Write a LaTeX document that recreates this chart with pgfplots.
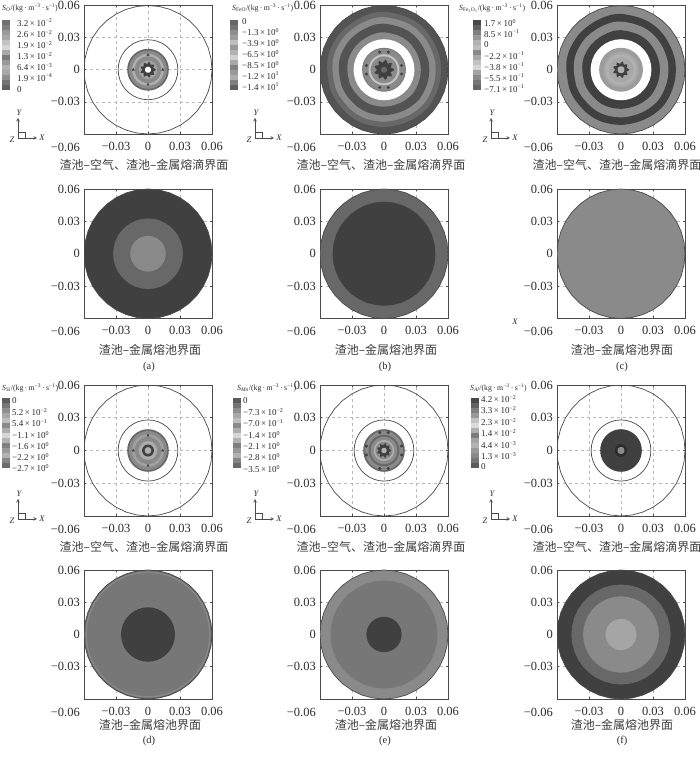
\documentclass[border=0pt]{standalone}
\usepackage{pgfplots}
\usepackage{pgfplotstable}
\usepackage{fontspec}
\pgfplotsset{compat=1.18}
\setmainfont{Liberation Serif}
\newfontfamily\cjk{Noto Sans CJK SC}
\definecolor{axc}{HTML}{4A4A4A}
\definecolor{txt}{HTML}{2A2A2A}
\definecolor{cjkc}{HTML}{3C3C3C}
\definecolor{dk}{HTML}{404040}
\definecolor{md}{HTML}{686868}
\definecolor{gr}{HTML}{8A8A8A}
\definecolor{lt}{HTML}{B0B0B0}
\definecolor{vl}{HTML}{D4D4D4}
% unit circle: x, y, wobble factor k, star factor s
\pgfplotstableread{
x y k s
1 0 1 1
.9848 .1736 1 .85
.9397 .3420 .995 .68
.8660 .5 .995 .85
.7660 .6428 1 1
.6428 .7660 1.005 .85
.5 .8660 1.005 .68
.3420 .9397 1 .85
.1736 .9848 1 1
0 1 1.012 .85
-.1736 .9848 1.012 .68
-.3420 .9397 1 .85
-.5 .8660 .995 1
-.6428 .7660 .995 .85
-.7660 .6428 1 .68
-.8660 .5 1 .85
-.9397 .3420 1.005 1
-.9848 .1736 1.005 .85
-1 0 .995 .68
-.9848 -.1736 .99 .85
-.9397 -.3420 1 1
-.8660 -.5 1 .85
-.7660 -.6428 .995 .68
-.6428 -.7660 1 .85
-.5 -.8660 1.005 1
-.3420 -.9397 1.005 .85
-.1736 -.9848 1 .68
0 -1 1 .85
.1736 -.9848 .995 1
.3420 -.9397 .995 .85
.5 -.8660 1 .68
.6428 -.7660 1.005 .85
.7660 -.6428 1.012 1
.8660 -.5 1.005 .85
.9397 -.3420 1 .68
.9848 -.1736 1 .85
1 0 1 1
}\unitc
\pgfplotstableread{
x y
.0138 0
-.0138 0
0 .0138
0 -.0138
}\lobesA
\pgfplotstableread{
x y
.0165 .004
.0165 -.004
-.0165 .004
-.0165 -.004
.004 .0165
-.004 .0165
.004 -.0165
-.004 -.0165
}\lobesB
\newcommand\disc[2]{\addplot[fill=#2,draw=none,mark=none] table[x expr=\thisrow{x}*#1,y expr=\thisrow{y}*#1]{\unitc};}
\newcommand\wdisc[2]{\addplot[fill=#2,draw=none,mark=none,smooth] table[x expr=\thisrow{x}*\thisrow{k}*#1,y expr=\thisrow{y}*\thisrow{k}*#1]{\unitc};}
\newcommand\sdisc[2]{\addplot[fill=#2,draw=none,mark=none] table[x expr=\thisrow{x}*\thisrow{s}*#1,y expr=\thisrow{y}*\thisrow{s}*#1]{\unitc};}
\newcommand\circl[1]{\addplot[draw=axc,line width=0.7pt,mark=none] table[x expr=\thisrow{x}*#1,y expr=\thisrow{y}*#1]{\unitc};}
\newcommand\lobes[2]{\addplot[only marks,mark=#2,mark size=1.3pt,mark options={draw=dk,fill=dk}] table {#1};}
\pgfplotsset{panel/.style={
  scale only axis,width=128pt,height=129.5pt,
  anchor=south west,
  xmin=-0.06,xmax=0.06,ymin=-0.06,ymax=0.06,
  scaled ticks=false,
  xtick={-0.03,0,0.03,0.06},ytick={-0.03,0,0.03,0.06},
  xticklabels={−0.03,0,0.03,0.06},yticklabels={−0.03,0,0.03,0.06},
  tick align=inside,major tick length=2pt,
  tick style={draw=axc,line width=0.5pt},
  axis line style={draw=axc,line width=0.8pt},
  grid=major,grid style={dashed,draw=black!28,line width=0.5pt},
  tick label style={font=\fontsize{12.5}{13}\selectfont,text=txt,inner sep=0pt},
  xticklabel shift=7.5pt,yticklabel shift=4pt,
}}
\newcommand\E[2]{#1\,×\,10\textsuperscript{#2}}
\newcommand\Ttl[3]{\node[anchor=west,inner sep=0pt,text=txt,font=\fontsize{7.8}{9}\selectfont] at (#1,#2) {\textit{S}\textsubscript{#3}/(kg\,·\,m\textsuperscript{−3}\,·\,s\textsuperscript{−1})};}
\newcommand\Lab[3]{\node[anchor=west,inner sep=0pt,text=txt,font=\fontsize{9}{10}\selectfont] at (#1,#2) {#3};}
\newcommand\MinusS[2]{\node[anchor=east,inner sep=0pt,text=txt,font=\fontsize{12.5}{13}\selectfont] at (#1,#2) {−0.06};}
\newcommand\Cn[3]{\node[inner sep=0pt,text=cjkc,font=\fontsize{12}{13}\selectfont\cjk] at (#1,#2) {#3};}
\newcommand\Triad[2]{%
  \draw[axc,line width=0.6pt,-stealth] (#1,#2)--(#1,#2-20);
  \draw[axc,line width=0.6pt,-stealth] (#1,#2)--(#1+19,#2);
  \draw[axc,line width=0.5pt] (#1,#2-6) rectangle (#1+7,#2);
  \node[inner sep=0pt,text=txt,font=\fontsize{8.5}{9}\selectfont\itshape] at (#1+1,#2-25) {Y};
  \node[inner sep=0pt,text=txt,font=\fontsize{8.5}{9}\selectfont\itshape] at (#1+24,#2) {X};
  \node[inner sep=0pt,text=txt,font=\fontsize{8.5}{9}\selectfont\itshape] at (#1-6,#2+2) {Z};}
\newcommand\Cbar[3]{%
  \foreach \g [count=\i from 0] in {#3} {
    \fill[black!\g] (#1,#2+\i*5) rectangle (#1+8,#2+\i*5+5.1);
  }}
\begin{document}
\begin{tikzpicture}
\path[use as bounding box] (0,0) rectangle (700pt,757pt);
% ---------- row 1
\begin{axis}[panel,at={(84pt,623pt)},height=128.5pt]
\circl{0.06}\circl{0.028}
\disc{0.0195}{md}\disc{0.0178}{gr}\disc{0.0148}{lt}\disc{0.0125}{gr}\disc{0.0085}{lt!70!gr}
\sdisc{0.0075}{dk}\disc{0.0028}{white}
\lobes{\lobesA}{triangle*}
\end{axis}
\begin{axis}[panel,at={(320pt,623pt)},height=128.5pt]
\disc{0.06}{dk!90!white}
\wdisc{0.0535}{md}\wdisc{0.0485}{gr}\wdisc{0.0425}{dk!90!white}\wdisc{0.0345}{gr}
\disc{0.0285}{white}
\disc{0.0205}{dk!70!white}\disc{0.0195}{gr}\disc{0.0145}{vl!80!gray}\disc{0.0125}{gr}
\sdisc{0.0095}{dk}\disc{0.0045}{dk}\disc{0.0028}{md}
\lobes{\lobesB}{*}
\circl{0.06}
\end{axis}
\begin{axis}[panel,at={(557pt,623pt)},height=128.5pt]
\disc{0.06}{gr}
\wdisc{0.0515}{dk}\wdisc{0.0445}{gr}\wdisc{0.0365}{dk}
\disc{0.0285}{white}
\disc{0.0205}{gr!85!white}\disc{0.0165}{gr!75!white}\disc{0.0145}{lt}\disc{0.0115}{gr!75!white}
\sdisc{0.0078}{dk}\disc{0.0032}{lt}
\circl{0.06}
\end{axis}
% ---------- row 2
\begin{axis}[panel,at={(84pt,438.5pt)}]
\disc{0.06}{dk}\disc{0.0327}{md}\disc{0.0166}{gr}\circl{0.06}
\end{axis}
\begin{axis}[panel,at={(320pt,438.5pt)}]
\disc{0.06}{md}\disc{0.0482}{dk}\circl{0.06}
\end{axis}
\begin{axis}[panel,at={(557pt,438.5pt)}]
\disc{0.06}{gr}\circl{0.06}
\end{axis}
% ---------- row 3
\begin{axis}[panel,at={(84pt,241pt)},height=131pt]
\circl{0.06}\circl{0.028}
\disc{0.0195}{md}\disc{0.0178}{gr}\disc{0.0148}{gr!80!white}\disc{0.0125}{gr}\disc{0.0085}{gr!70!white}
\disc{0.0055}{dk}\disc{0.003}{lt}
\lobes{\lobesA}{triangle*}
\end{axis}
\begin{axis}[panel,at={(320pt,241pt)},height=131pt]
\circl{0.06}\circl{0.028}
\disc{0.0195}{md}\disc{0.0178}{gr}\disc{0.0145}{md}\disc{0.0125}{gr}\disc{0.0095}{lt}\disc{0.008}{gr}
\sdisc{0.0068}{dk}\disc{0.0025}{lt}
\lobes{\lobesB}{*}
\end{axis}
\begin{axis}[panel,at={(557pt,241pt)},height=131pt]
\circl{0.06}\circl{0.028}
\disc{0.0195}{dk}\disc{0.0058}{dk!70!black}\disc{0.0032}{gr}
\end{axis}
% ---------- row 4
\begin{axis}[panel,at={(84pt,58pt)},height=129pt]
\disc{0.06}{md}\disc{0.0588}{gr}\disc{0.0575}{md!90!white}\disc{0.0253}{dk}\circl{0.06}
\end{axis}
\begin{axis}[panel,at={(320pt,58pt)},height=129pt]
\disc{0.06}{gr}\disc{0.0502}{md!90!white}\disc{0.0165}{dk}\circl{0.06}
\end{axis}
\begin{axis}[panel,at={(557pt,58pt)},height=129pt]
\disc{0.06}{dk}\disc{0.0465}{md}\disc{0.0355}{gr}\disc{0.0145}{lt!70!gr}\circl{0.06}
\end{axis}
% ---------- decorations, coordinates in reference pixels from the top left
\begin{scope}[x=1pt,y=-1pt,yshift=757pt]
\foreach \xx in {80,316,553} {
  \MinusS{\xx}{147}\MinusS{\xx}{331}\MinusS{\xx}{529}\MinusS{\xx}{712}
}
\Cn{144}{165}{渣池–空气、渣池–金属熔滴界面}
\Cn{381}{165}{渣池–空气、渣池–金属熔滴界面}
\Cn{617}{165}{渣池–空气、渣池–金属熔滴界面}
\Cn{144}{547}{渣池–空气、渣池–金属熔滴界面}
\Cn{381}{547}{渣池–空气、渣池–金属熔滴界面}
\Cn{617}{547}{渣池–空气、渣池–金属熔滴界面}
\Cn{150}{350}{渣池–金属熔池界面}
\Cn{386}{350}{渣池–金属熔池界面}
\Cn{622}{350}{渣池–金属熔池界面}
\Cn{150}{725}{渣池–金属熔池界面}
\Cn{386}{725}{渣池–金属熔池界面}
\Cn{622}{725}{渣池–金属熔池界面}
\foreach \xx/\ll in {149/a,385/b,622/c} {
  \node[inner sep=0pt,text=txt,font=\fontsize{10.5}{11}\selectfont] at (\xx,367) {(\ll)};}
\foreach \xx/\ll in {149/d,385/e,622/f} {
  \node[inner sep=0pt,text=txt,font=\fontsize{10.5}{11}\selectfont] at (\xx,741) {(\ll)};}
\node[inner sep=0pt,text=txt,font=\fontsize{8.5}{9}\selectfont\itshape] at (515,322) {X};
\Triad{18}{138}\Triad{255}{138}\Triad{491}{138}
\Triad{18}{519}\Triad{255}{519}\Triad{491}{519}
% colour bars
\Cbar{2}{20}{56,50,40,34,24,16,34,52,40,30,34,44,54,62}
\Cbar{230}{20}{60,54,44,38,26,40,30,18,34,50,40,32,50,62}
\Cbar{473}{20}{72,62,50,40,30,26,46,34,24,16,36,46,54,60}
\Cbar{2}{398}{64,54,44,34,26,46,32,16,30,50,40,30,48,58}
\Cbar{233}{398}{64,54,44,34,26,46,32,16,30,50,40,30,48,58}
\Cbar{471}{398}{72,62,50,40,24,14,32,52,36,30,40,46,54,64}
% titles
\Ttl{2}{8}{\textit{O}}
\Ttl{232}{8}{FeO}
\Ttl{459}{8}{Fe\textsubscript{2}O\textsubscript{3}}
\Ttl{2}{388}{\textit{Si}}
\Ttl{237}{388}{\textit{Mn}}
\Ttl{470}{388}{\textit{Al}}
% labels panel a
\Lab{17}{23}{\E{3.2}{−2}}\Lab{17}{34}{\E{2.6}{−2}}\Lab{17}{45}{\E{1.9}{−2}}\Lab{17}{56}{\E{1.3}{−2}}\Lab{17}{67}{\E{6.4}{−3}}\Lab{17}{78}{\E{1.9}{−4}}\Lab{17}{90}{0}
% panel b
\Lab{242}{22}{0}\Lab{242}{32}{−\E{1.3}{0}}\Lab{242}{43}{−\E{3.9}{0}}\Lab{242}{54}{−\E{6.5}{0}}\Lab{242}{65}{−\E{8.5}{0}}\Lab{242}{76}{−\E{1.2}{1}}\Lab{242}{87}{−\E{1.4}{1}}
% panel c
\Lab{484}{23}{\E{1.7}{0}}\Lab{484}{34}{\E{8.5}{−1}}\Lab{484}{45}{0}\Lab{484}{56}{−\E{2.2}{−1}}\Lab{484}{67}{−\E{3.8}{−1}}\Lab{484}{78}{−\E{5.5}{−1}}\Lab{484}{89}{−\E{7.1}{−1}}
% panel d
\Lab{12}{401}{0}\Lab{12}{412}{\E{5.2}{−2}}\Lab{12}{423}{\E{5.4}{−1}}\Lab{12}{435}{−\E{1.1}{0}}\Lab{12}{446}{−\E{1.6}{0}}\Lab{12}{457}{−\E{2.2}{0}}\Lab{12}{468}{−\E{2.7}{0}}
% panel e
\Lab{243}{401}{0}\Lab{243}{412}{−\E{7.3}{−2}}\Lab{243}{423}{−\E{7.0}{−1}}\Lab{243}{435}{−\E{1.4}{0}}\Lab{243}{446}{−\E{2.1}{0}}\Lab{243}{457}{−\E{2.8}{0}}\Lab{243}{469}{−\E{3.5}{0}}
% panel f
\Lab{481}{399}{\E{4.2}{−2}}\Lab{481}{410}{\E{3.3}{−2}}\Lab{481}{422}{\E{2.3}{−2}}\Lab{481}{433}{\E{1.4}{−2}}\Lab{481}{445}{\E{4.4}{−3}}\Lab{481}{456}{\E{1.3}{−3}}\Lab{481}{467}{0}
\end{scope}
\end{tikzpicture}
\end{document}
